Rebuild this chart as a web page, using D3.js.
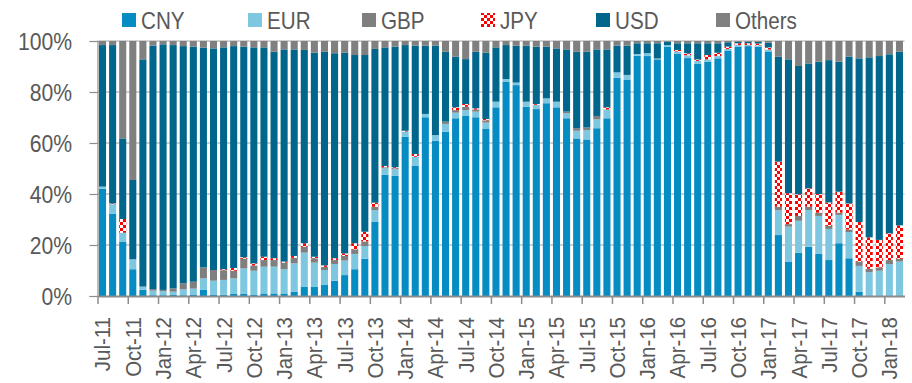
<!DOCTYPE html>
<html>
<head>
<meta charset="utf-8">
<script src="https://cdn.jsdelivr.net/npm/d3@7"></script>
<style>
  body { margin: 0; background: #fff; }
  svg { display: block; }
  text { font-family: "Liberation Sans", Arial, sans-serif; fill: #595959; }
</style>
</head>
<body>
<svg id="chart" width="912" height="383"></svg>
<script>
// Monthly currency shares (% of total), Jul-11 .. Feb-18
const months = [
  "Jul-11","Aug-11","Sep-11","Oct-11","Nov-11","Dec-11",
  "Jan-12","Feb-12","Mar-12","Apr-12","May-12","Jun-12","Jul-12","Aug-12","Sep-12","Oct-12","Nov-12","Dec-12",
  "Jan-13","Feb-13","Mar-13","Apr-13","May-13","Jun-13","Jul-13","Aug-13","Sep-13","Oct-13","Nov-13","Dec-13",
  "Jan-14","Feb-14","Mar-14","Apr-14","May-14","Jun-14","Jul-14","Aug-14","Sep-14","Oct-14","Nov-14","Dec-14",
  "Jan-15","Feb-15","Mar-15","Apr-15","May-15","Jun-15","Jul-15","Aug-15","Sep-15","Oct-15","Nov-15","Dec-15",
  "Jan-16","Feb-16","Mar-16","Apr-16","May-16","Jun-16","Jul-16","Aug-16","Sep-16","Oct-16","Nov-16","Dec-16",
  "Jan-17","Feb-17","Mar-17","Apr-17","May-17","Jun-17","Jul-17","Aug-17","Sep-17","Oct-17","Nov-17","Dec-17",
  "Jan-18","Feb-18"
];

const cny = [42.1,32.2,21.2,10.5,2.4,0.3,0.3,0.4,0.3,0.4, 2.4,0.4,0.5,0.8,0.8,0.4,1.0,1.0,1.0,1.7,
  3.7,3.7,4.3,6.0,8.2,10.5,14.6,29.2,47.5,47.1, 62.5,51.0,70.1,60.9,64.4,69.7,70.6,70.1,65.5,74.0,
  84.1,82.7,74.2,73.3,75.6,74.0,69.7,61.8,61.4,65.8, 69.7,85.6,84.7,94.2,94.1,92.8,97.8,94.9,93.3,91.0,
  91.8,93.2,96.1,97.8,98.0,97.8,95.9,23.9,13.5,17.0, 19.3,16.5,14.1,20.7,14.8,1.7,0,0,0,0];

const eur = [0.8,3.8,3.6,3.9,1.3,1.8,1.6,1.3,2.3,2.5, 4.5,5.6,5.8,6.1,10.0,9.5,10.5,10.5,9.5,11.1,
  13.3,9.4,5.9,6.5,5.7,6.0,5.0,4.5,2.6,2.6, 2.0,3.6,1.3,2.2,3.1,2.2,2.3,2.2,2.5,2.2,
  1.0,1.0,2.0,1.7,1.9,2.2,2.0,3.0,3.7,3.5, 3.3,2.1,2.0,0.7,1.1,0.2,0.6,1.0,1.1,1.2,
  1.0,0.9,0.8,0.6,0.4,0.5,0.8,9.8,13.7,12.5, 14.4,14.9,12.2,11.1,10.3,10.1,9.3,9.9,12.5,13.5];

const gbp = [0,0,0,0,0,0.6,0.5,1.3,2.4,2.7, 4.3,4.2,3.8,3.0,3.8,2.1,2.6,2.6,2.6,2.2,
  2.3,1.7,1.2,1.6,1.8,1.8,1.8,1.3,0.4,0.4, 0,0,0,0,0.9,1.0,1.3,0.9,0.9,0,
  0,0,0,0,0,0,0.6,1.0,1.0,1.3, 0.2,0,0,0,0,0.2,0,0,0,0,
  0,0,0,0,0,0,0,1.3,1.0,1.9, 1.3,1.3,1.2,0.9,1.0,1.7,1.4,1.3,1.6,1.1];

const jpy = [0,0.3,5.4,0,0,0,0,0,0,0, 0,0,0.4,1.1,0.6,0.8,1.3,0.7,0.4,0.7,
  1.4,0.6,0.6,0.7,1.0,2.4,3.8,1.6,0.5,0.4, 0.3,1.1,0,0,0,1.1,1.1,0.4,0.5,0,
  0,0,0,0.3,0,0,0,0,0,0, 0.8,0,0,0,0,0,0,0.6,0.8,0.6,
  1.7,1.3,0.9,0.7,0.7,0.7,0.8,17.7,12.1,8.5, 7.2,7.3,9.2,8.2,10.2,15.5,12.3,10.8,10.5,13.1];

const usd = [55.5,62.1,31.6,31.1,89.1,95.5,96.3,95.4,93.0,92.2, 86.2,86.9,87.0,87.0,82.6,84.7,82.1,81.0,83.2,81.0,
  75.8,80.0,83.8,80.4,78.7,73.8,69.3,60.3,46.5,47.3, 33.6,42.5,26.8,35.1,27.4,19.9,17.6,22.2,26.0,21.3,
  13.3,14.5,22.0,22.5,20.3,20.9,24.4,30.0,29.7,26.1, 22.7,10.5,11.5,4.2,3.9,5.9,1.3,2.6,3.9,6.3,
  4.6,3.7,1.7,0.6,0.6,0.7,1.8,41.2,52.5,50.3, 49.0,51.9,55.8,51.0,57.6,64.2,70.6,72.1,70.2,68.1];

const others = [1.6,1.6,38.2,54.5,7.2,1.8,1.3,1.6,2.0,2.2, 2.6,2.9,2.5,2.0,2.2,2.5,2.5,4.2,3.3,3.3,
  3.5,4.6,4.2,4.8,4.6,5.5,5.5,3.1,2.5,2.2, 1.6,1.8,1.8,1.8,4.2,6.1,7.1,4.2,4.6,2.5,
  1.6,1.8,1.8,2.2,2.2,2.9,3.3,4.2,4.2,3.3, 3.3,1.8,1.8,0.9,0.9,0.9,0.3,0.9,0.9,0.9,
  0.9,0.9,0.5,0.3,0.3,0.3,0.7,6.1,7.2,9.8, 8.8,8.1,7.5,8.1,6.1,6.8,6.4,5.9,5.2,4.2];

const seriesKeys = ["CNY", "EUR", "GBP", "JPY", "USD", "Others"];
const seriesValues = { CNY: cny, EUR: eur, GBP: gbp, JPY: jpy, USD: usd, Others: others };
const yTicks = [0, 20, 40, 60, 80, 100];
const labelEvery = 3;

const fills = {
  CNY: "#058cc2",
  EUR: "#7ec7e1",
  GBP: "#7f7f7f",
  JPY: "url(#checker)",
  USD: "#00668b",
  Others: "#808080"
};

const svg = d3.select("#chart");

// red/white checker pattern for JPY
const cell = 3;
const defs = svg.append("defs");
const pat = defs.append("pattern")
  .attr("id", "checker").attr("patternUnits", "userSpaceOnUse")
  .attr("width", cell * 2).attr("height", cell * 2);
pat.append("rect").attr("width", cell * 2).attr("height", cell * 2).attr("fill", "#fff");
pat.append("rect").attr("x", 0).attr("y", 0).attr("width", cell).attr("height", cell)
  .attr("fill", "#ff0000").attr("shape-rendering", "crispEdges");
pat.append("rect").attr("x", cell).attr("y", cell).attr("width", cell).attr("height", cell)
  .attr("fill", "#ff0000").attr("shape-rendering", "crispEdges");

// plot frame
const plotLeft = 97.5, plotRight = 904.5, plotTop = 41, plotBottom = 296;

const table = months.map((m, i) => {
  const row = { month: m };
  seriesKeys.forEach(k => { row[k] = seriesValues[k][i]; });
  return row;
});

const x = d3.scaleBand().domain(months).range([plotLeft, plotRight])
  .paddingInner(0.3).paddingOuter(0.15);
const y = d3.scaleLinear().domain([0, 100]).range([plotBottom, plotTop]);
const edge = d3.scaleLinear().domain([0, months.length]).range([plotLeft, plotRight]);

// horizontal gridlines
svg.append("g").selectAll("line").data(yTicks.filter(d => d > 0)).join("line")
  .attr("x1", plotLeft).attr("x2", plotRight)
  .attr("y1", d => y(d)).attr("y2", d => y(d))
  .attr("stroke", "#a3a3a3").attr("stroke-width", 1);

// stacked bars
const stacked = d3.stack().keys(seriesKeys)(table);
svg.append("g").selectAll("g").data(stacked).join("g")
  .attr("fill", s => fills[s.key])
  .selectAll("rect").data(s => s).join("rect")
  .attr("x", d => x(d.data.month))
  .attr("width", x.bandwidth())
  .attr("y", d => y(d[1]))
  .attr("height", d => Math.max(0, y(d[0]) - y(d[1])));

// y axis
const yAxis = svg.append("g").attr("transform", `translate(${plotLeft},0)`)
  .call(d3.axisLeft(y).tickValues(yTicks).tickFormat(d => d + "%").tickSize(8));
yAxis.select(".domain").attr("stroke", "#8c8c8c").attr("stroke-width", 1.2);
yAxis.selectAll(".tick line").attr("stroke", "#8c8c8c").attr("stroke-width", 1.2);
yAxis.selectAll(".tick text")
  .attr("x", -25.5 / 0.9).attr("dy", "0.36em")
  .attr("transform", "scale(0.9,1)")
  .style("font-size", "23.5px").style("fill", "#595959")
  .style("font-family", "'Liberation Sans', Arial, sans-serif");

// x axis: line and ticks at category boundaries
const xAxis = svg.append("g").attr("transform", `translate(0,${plotBottom})`)
  .call(d3.axisBottom(edge).tickValues(d3.range(0, months.length, labelEvery))
    .tickSize(8).tickSizeOuter(0).tickFormat(""));
xAxis.select(".domain").attr("stroke", "#8c8c8c").attr("stroke-width", 2);
xAxis.selectAll(".tick line").attr("stroke", "#8c8c8c").attr("stroke-width", 1.5);

// rotated month labels (slightly condensed along the reading direction)
svg.append("g").selectAll("text")
  .data(months.filter((m, i) => i % labelEvery === 0)).join("text")
  .attr("transform", m => `translate(${x(m) + x.bandwidth() / 2},317) rotate(-90) scale(0.93,1)`)
  .attr("text-anchor", "end")
  .attr("dy", "0.36em")
  .style("font-size", "22px")
  .text(m => m);

// legend
const legendX = { CNY: 122, EUR: 248, GBP: 362, JPY: 481, USD: 596, Others: 716 };
const lg = svg.append("g").selectAll("g").data(seriesKeys).join("g")
  .attr("transform", k => `translate(${legendX[k]},0)`);
lg.append("rect").attr("x", 0).attr("y", 13).attr("width", 14).attr("height", 14)
  .attr("fill", k => fills[k]);
lg.append("text")
  .attr("transform", "translate(19,29) scale(0.86,1)")
  .style("font-size", "24px")
  .text(k => k);
</script>
</body>
</html>
